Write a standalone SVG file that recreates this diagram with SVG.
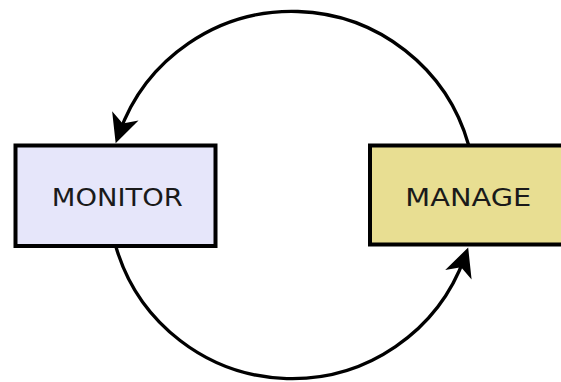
<svg xmlns="http://www.w3.org/2000/svg" width="561" height="382" viewBox="0 0 561 382">
<defs>
<style>
.box{stroke:#000;stroke-width:4}
.lbl{font-family:"DejaVu Sans",Verdana,sans-serif;font-size:25.5px;fill:#1a1a1a;text-anchor:middle}
.edge{fill:none;stroke:#000;stroke-width:3.3}
</style>
<marker id="arr" markerUnits="userSpaceOnUse" markerWidth="60" markerHeight="60" refX="0" refY="0" orient="auto" overflow="visible">
<path d="M10,0 L-19,-14 L-11,0 L-19,14 Z" fill="#000"/>
</marker>
</defs>
<rect width="561" height="382" fill="#fff"/>
<g id="connectors">
<path class="edge" d="M468.6,145 A183.5,183.5 0 0 0 119,133.75" marker-end="url(#arr)"/>
<path class="edge" d="M116,247 A183.5,183.5 0 0 0 464.8,256.9" marker-end="url(#arr)"/>
</g>
<g id="monitor">
<rect class="box" x="15.5" y="145.5" width="200" height="100.5" fill="#e6e6fa"/>
<text class="lbl" x="117.3" y="206" textLength="131" lengthAdjust="spacingAndGlyphs">MONITOR</text>
</g>
<g id="manage">
<rect class="box" x="370" y="145.5" width="200" height="99" fill="#e8de92"/>
<text class="lbl" x="468.3" y="206" textLength="126" lengthAdjust="spacingAndGlyphs">MANAGE</text>
</g>
</svg>
